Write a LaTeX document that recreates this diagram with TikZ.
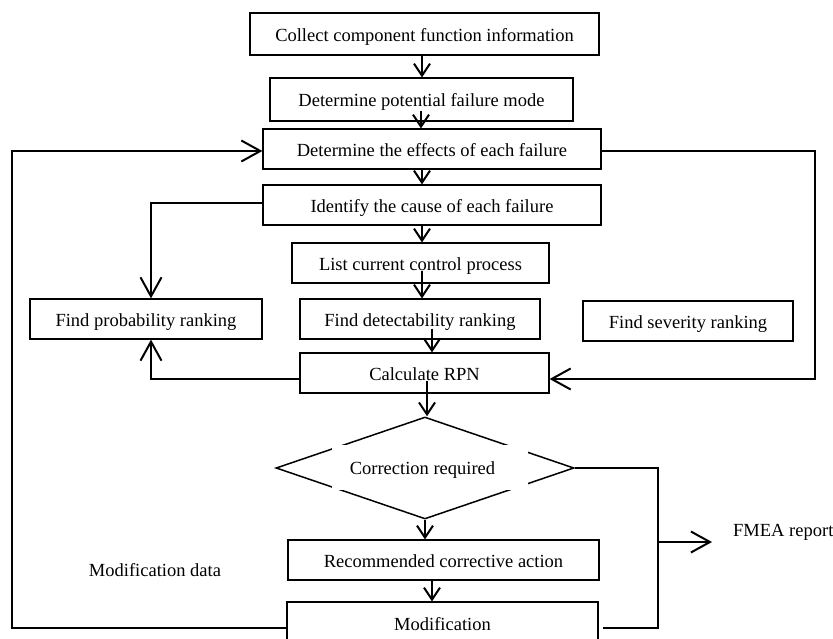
\documentclass[tikz,border=0pt]{standalone}
\usepackage{fontspec}
\setmainfont{Liberation Serif}
\usetikzlibrary{arrows.meta,calc,shapes.geometric}
\begin{document}
\begin{tikzpicture}[x=1pt,y=-1pt,
  box/.style={draw,line width=1.2pt,inner sep=0pt,text height=15pt,text depth=0pt,font=\fontsize{18.5}{22}\selectfont},
  lbl/.style={inner sep=0pt,font=\fontsize{18.5}{22}\selectfont},
  conn/.style={line width=2pt},
  sarr/.style={conn,-{Straight Barb[length=12pt,width=16pt,line width=2pt]}},
  barr/.style={conn,-{Straight Barb[length=19pt,width=21pt,line width=2pt]}}]
\useasboundingbox (0,0) rectangle (833,639);
\clip (0,0) rectangle (833,639);

% boxes
\node[box,minimum width=349pt,minimum height=42pt] (coll) at (424.5,34) {Collect component function information};
\node[box,minimum width=303pt,minimum height=43pt] (pot) at (421.5,99.5) {Determine potential failure mode};
\node[box,minimum width=338pt,minimum height=40pt] (eff) at (432,149) {Determine the effects of each failure};
\node[box,minimum width=338pt,minimum height=40pt] (cause) at (432,205) {Identify the cause of each failure};
\node[box,minimum width=257pt,minimum height=40pt] (list) at (420.5,263) {List current control process};
\node[box,minimum width=232pt,minimum height=40pt] (prob) at (146,319) {Find probability ranking};
\node[box,minimum width=240pt,minimum height=40pt] (det) at (420,319) {Find detectability ranking};
\node[box,minimum width=210pt,minimum height=40pt] (sev) at (688,321) {Find severity ranking};
\node[box,minimum width=249pt,minimum height=40pt] (rpn) at (424.5,373) {Calculate RPN};
\node[draw,diamond,line width=1.5pt,minimum width=298pt,minimum height=102pt,inner sep=0pt] (dia) at (425,468) {};
\node[lbl,fill=white,minimum width=196pt,minimum height=45pt,text height=14pt,text depth=0pt] (corr) at (430,467.5) {\hspace*{-15pt}Correction required};
\node[box,minimum width=311pt,minimum height=40pt] (rec) at (443.5,560) {Recommended corrective action};
\node[box,minimum width=311pt,minimum height=52pt] (mod) at (442.5,628) {\raisebox{5pt}{Modification}};

% free labels
\node[lbl] (md) at (155,570) {Modification data};
\node[lbl,anchor=west] (fmea) at (733,532) {FMEA report};

% column helpers
\coordinate (cA) at (422,0);
\coordinate (cB) at (421,0);
\coordinate (cC) at (432,0);
\coordinate (cD) at (427,0);
\coordinate (cP) at (151,0);
\coordinate (cL) at (12,400);
\coordinate (cR) at (658,542);

% main flow
\draw[sarr] (coll.south -| cA) -- (pot.north -| cA);
\draw[sarr] ($(pot.south -| cB)+(0,-11)$) -- (eff.north -| cB);
\draw[sarr] (eff.south -| cA) -- (cause.north -| cA);
\draw[sarr] (cause.south -| cA) -- (list.north -| cA);
\draw[sarr] ($(list.south -| cA)+(0,-13)$) -- (det.north -| cA);
\draw[sarr] ($(det.south -| cC)+(0,-11)$) -- (rpn.north -| cC);
\draw[sarr] ($(rpn.south -| cD)+(0,-13)$) -- (dia.north -| cD);
\draw[sarr] (dia.south) -- (dia.south |- rec.north);
\draw[sarr] (rec.south -| cC) -- (mod.north -| cC);

% loops
\draw[barr] ($(cause.west)+(0,-2)$) -| (prob.north -| cP);
\draw[barr] ($(rpn.west)+(0,6)$) -| (prob.south -| cP);
\draw[barr] ($(eff.east)+(0,2)$) -| ($(rpn.east)+(265,6)$) -- ($(rpn.east)+(0,6)$);
\draw[barr] (mod.west) -| (cL) |- ($(eff.west)+(0,2)$);
\draw[conn] (dia.east) -| (cR) |- ([xshift=4pt]mod.east);
\draw[barr] (cR) -- ($(cR -| fmea.west)+(-21,0)$);
\end{tikzpicture}
\end{document}
